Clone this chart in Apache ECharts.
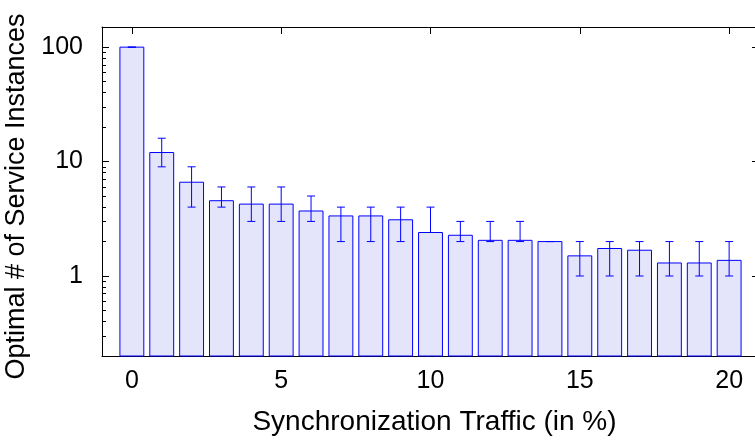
<!DOCTYPE html>
<html lang="en">
<head>
    <meta charset="UTF-8">
    <title>Service Instances</title>
    <script src="https://cdn.jsdelivr.net/npm/echarts@6/dist/echarts.min.js"></script>
</head>
<body style="margin:0;">
<div id="main" style="width:755px;height:441px;"></div>

<script type="text/javascript">
    // traffic share (in %)
    var traffic = [0, 1, 2, 3, 4, 5, 6, 7, 8, 9, 10, 11, 12, 13, 14, 15, 16, 17, 18, 19, 20];
    // mean optimal number of instances
    var meanInst = [100, 12, 6.6, 4.55, 4.25, 4.25, 3.7, 3.35, 3.35, 3.1, 2.4, 2.27, 2.05, 2.05, 2, 1.5, 1.74, 1.68, 1.3, 1.3, 1.37];
    // error bar ends
    var lowInst = [100, 9, 4, 4, 3, 3, 3, 2, 2, 2, 2.4, 2, 2, 2, 2, 1, 1, 1, 1, 1, 1];
    var highInst = [100, 16, 9, 6, 6, 6, 5, 4, 4, 4, 4, 3, 3, 3, 2, 2, 2, 2, 2, 2, 2];

    var xTicks = [0, 5, 10, 15, 20];
    var yTicks = [1, 10, 100];
    var yMinorTicks = [0.2, 0.3, 0.4, 0.5, 0.6, 0.7, 0.8, 0.9, 2, 3, 4, 5, 6, 7, 8, 9, 20, 30, 40, 50, 60, 70, 80, 90];

    var Y_MIN = 0.2, Y_MAX = 150;
    var FONT = 'Liberation Sans';

    var myChart = echarts.init(document.getElementById('main'));

    function renderBar(params, api) {
        var x = api.value(0), m = api.value(1), lo = api.value(2), hi = api.value(3);
        var tl = api.coord([x - 0.4, m]);
        var br = api.coord([x + 0.4, Y_MIN]);
        var eLo = api.coord([x, lo]);
        var eHi = api.coord([x, hi]);
        var blue = '#0000ff';
        return {
            type: 'group',
            children: [
                {
                    type: 'rect',
                    shape: {x: tl[0], y: tl[1], width: br[0] - tl[0], height: br[1] - tl[1]},
                    style: {fill: '#e4e4fa', stroke: blue, lineWidth: 1}
                },
                {
                    type: 'line',
                    shape: {x1: eLo[0], y1: eLo[1], x2: eHi[0], y2: eHi[1]},
                    style: {stroke: blue, lineWidth: 1}
                },
                {
                    type: 'line',
                    shape: {x1: eLo[0] - 4, y1: eLo[1], x2: eLo[0] + 4, y2: eLo[1]},
                    style: {stroke: blue, lineWidth: 1}
                },
                {
                    type: 'line',
                    shape: {x1: eHi[0] - 4, y1: eHi[1], x2: eHi[0] + 4, y2: eHi[1]},
                    style: {stroke: blue, lineWidth: 1}
                }
            ]
        };
    }

    var lineBlack = {show: true, onZero: false, lineStyle: {color: '#000', width: 1}};
    var lineClear = {show: true, onZero: false, lineStyle: {color: '#000', width: 1, opacity: 0}};

    option = {
        animation: false,
        grid: {left: 102, top: 27, right: -4, bottom: 85, outerBoundsMode: 'none'},
        xAxis: [
            {
                type: 'value',
                min: -1,
                max: 21,
                position: 'bottom',
                name: 'Synchronization Traffic (in %)',
                nameLocation: 'middle',
                nameGap: 52,
                nameTextStyle: {fontFamily: FONT, fontSize: 28, color: '#000', padding: [0, 0, 0, 8]},
                axisLine: lineBlack,
                axisTick: {show: true, inside: true, length: 7, customValues: xTicks, lineStyle: {color: '#000'}},
                axisLabel: {customValues: xTicks, fontFamily: FONT, fontSize: 25, color: '#000', margin: 13},
                splitLine: {show: false}
            },
            {
                type: 'value',
                min: -1,
                max: 21,
                position: 'top',
                axisLine: lineBlack,
                axisTick: {show: true, inside: true, length: 7, customValues: xTicks, lineStyle: {color: '#000'}},
                axisLabel: {show: false},
                splitLine: {show: false}
            }
        ],
        yAxis: [
            {
                type: 'log',
                min: Y_MIN,
                max: Y_MAX,
                position: 'left',
                name: 'Optimal # of Service Instances',
                nameLocation: 'middle',
                nameGap: 66,
                nameTextStyle: {fontFamily: FONT, fontSize: 27, color: '#000', padding: [0, 10, 0, 0]},
                axisLine: lineBlack,
                axisTick: {show: true, inside: true, length: 7, customValues: yTicks, lineStyle: {color: '#000', width: 1}},
                axisLabel: {customValues: yTicks, fontFamily: FONT, fontSize: 25, color: '#000', margin: 19},
                splitLine: {show: false}
            },
            {
                type: 'log',
                min: Y_MIN,
                max: Y_MAX,
                position: 'left',
                offset: 0,
                axisLine: lineClear,
                axisTick: {show: true, inside: true, length: 4, customValues: yMinorTicks, lineStyle: {color: '#000', width: 1}},
                axisLabel: {show: false},
                splitLine: {show: false}
            },
            {
                type: 'log',
                min: Y_MIN,
                max: Y_MAX,
                position: 'right',
                axisLine: lineBlack,
                axisTick: {show: true, inside: true, length: 7, customValues: yTicks, lineStyle: {color: '#000'}},
                axisLabel: {show: false},
                splitLine: {show: false}
            }
        ],
        series: [
            {
                name: 'instances',
                type: 'custom',
                xAxisIndex: 0,
                yAxisIndex: 0,
                renderItem: renderBar,
                data: traffic.map(function (t, i) {
                    return [t, meanInst[i], lowInst[i], highInst[i]];
                })
            }
        ]
    };
    myChart.setOption(option);
</script>

</body>
</html>
